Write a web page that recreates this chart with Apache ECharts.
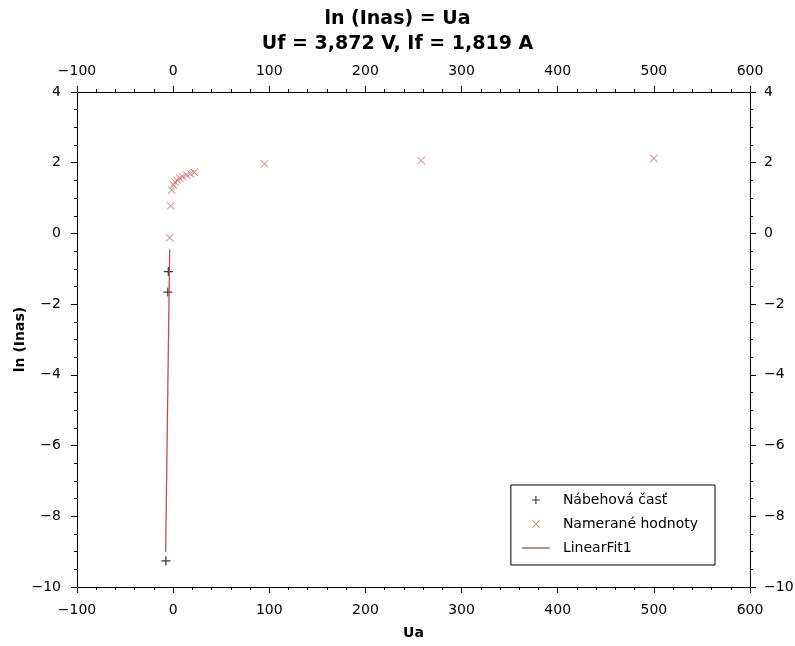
<!DOCTYPE html>
<html>
<head>
<meta charset="utf-8">
<style>
  html, body { margin: 0; padding: 0; background: #fff; }
  #chart { width: 795px; height: 646px; }
</style>
<script src="https://cdn.jsdelivr.net/npm/echarts@6/dist/echarts.min.js"></script>
</head>
<body>
<div id="chart"></div>
<script>
// Nábehová časť (black +)
const riseX = [-5, -5.5, -7.5];
const riseY = [-1.08, -1.66, -9.26];

// Namerané hodnoty (red x)
const measX = [-3.5, -2.5, -1.5, 0.5, 2, 4, 7, 10, 14, 18, 22, 95, 258, 500];
const measY = [-0.12, 0.78, 1.23, 1.37, 1.45, 1.51, 1.56, 1.6, 1.65, 1.69, 1.73, 1.97, 2.06, 2.12];

// LinearFit1 (red line)
const fitX = [-7.8, -3.6];
const fitY = [-9.0, -0.45];

const xTicks = { min: -100, max: 600, interval: 100 };
const yTicks = { min: -10, max: 4, interval: 2 };

const PLUS = "path://M4.3,0 L5.7,0 L5.7,4.3 L10,4.3 L10,5.7 L5.7,5.7 L5.7,10 L4.3,10 L4.3,5.7 L0,5.7 L0,4.3 L4.3,4.3 Z";
const CROSS = "path://M0,0.8 L0.8,0 L5,4.2 L9.2,0 L10,0.8 L5.8,5 L10,9.2 L9.2,10 L5,5.8 L0.8,10 L0,9.2 L4.2,5 Z";
const LINE = "path://M0,0 L28,0 L28,1.4 L0,1.4 Z";

const pairs = (xs, ys) => xs.map((x, i) => [x, ys[i]]);
const minus = (v) => String(v).replace("-", "\u2212");

const font = "DejaVu Sans, Verdana, sans-serif";

function xAxis(position, withName) {
  return {
    type: "value",
    position: position,
    min: xTicks.min,
    max: xTicks.max,
    interval: xTicks.interval,
    name: withName ? "Ua" : "",
    nameLocation: "middle",
    nameGap: 39,
    nameMoveOverlap: false,
    nameTextStyle: { fontFamily: font, fontWeight: "bold", fontSize: 14, color: "#000" },
    axisLine: { show: true, onZero: false, lineStyle: { color: "#000", width: 1 } },
    axisTick: { show: true, length: 6, lineStyle: { color: "#000" } },
    minorTick: { show: true, splitNumber: 5, length: 3, lineStyle: { color: "#000" } },
    splitLine: { show: false },
    axisLabel: {
      fontFamily: font, fontSize: 14, color: "#000",
      margin: position === "bottom" ? 16 : 14, formatter: minus,
    },
  };
}

function yAxis(position, withName) {
  return {
    type: "value",
    position: position,
    min: yTicks.min,
    max: yTicks.max,
    interval: yTicks.interval,
    name: withName ? "ln (Inas)" : "",
    nameLocation: "middle",
    nameGap: 50,
    nameMoveOverlap: false,
    nameRotate: 90,
    nameTextStyle: { fontFamily: font, fontWeight: "bold", fontSize: 14, color: "#000" },
    axisLine: { show: true, onZero: false, lineStyle: { color: "#000", width: 1 } },
    axisTick: { show: true, length: 6, lineStyle: { color: "#000" } },
    minorTick: { show: true, splitNumber: 4, length: 3, lineStyle: { color: "#000" } },
    splitLine: { show: false },
    axisLabel: {
      fontFamily: font, fontSize: 14, color: "#000",
      margin: position === "left" ? 16 : 14, formatter: minus,
    },
  };
}

const chart = echarts.init(document.getElementById("chart"), null, { renderer: "canvas" });
chart.setOption({
  animation: false,
  backgroundColor: "#fff",
  title: {
    text: "ln (Inas) = Ua\nUf = 3,872 V, If = 1,819 A",
    left: "center",
    top: 2,
    textStyle: { fontFamily: font, fontWeight: "bold", fontSize: 19, lineHeight: 25, color: "#000" },
  },
  grid: { left: 77, right: 45, top: 92, bottom: 59, containLabel: false, outerBoundsMode: "none" },
  xAxis: [xAxis("bottom", true), xAxis("top", false)],
  yAxis: [yAxis("left", true), yAxis("right", false)],
  legend: {
    orient: "vertical",
    right: 80,
    bottom: 81,
    padding: [8, 17, 10, 11],
    itemGap: 10,
    itemWidth: 28,
    itemHeight: 8,
    borderColor: "#000",
    borderWidth: 1,
    backgroundColor: "#fff",
    textStyle: { fontFamily: font, fontSize: 14, color: "#000", padding: [0, 0, 0, 8] },
    data: [
      { name: "Nábehová časť", icon: PLUS },
      { name: "Namerané hodnoty", icon: CROSS },
      { name: "LinearFit1", icon: LINE },
    ],
  },
  series: [
    {
      name: "LinearFit1",
      type: "line",
      data: pairs(fitX, fitY),
      symbol: "none",
      showSymbol: false,
      lineStyle: { color: "#c0504d", width: 1.3 },
      itemStyle: { color: "#c0504d" },
    },
    {
      name: "Namerané hodnoty",
      type: "scatter",
      data: pairs(measX, measY),
      symbol: CROSS,
      symbolSize: 8,
      itemStyle: { color: "#cf6a6a" },
    },
    {
      name: "Nábehová časť",
      type: "scatter",
      data: pairs(riseX, riseY),
      symbol: PLUS,
      symbolSize: 9,
      itemStyle: { color: "#000" },
    },
  ],
});
</script>
</body>
</html>
